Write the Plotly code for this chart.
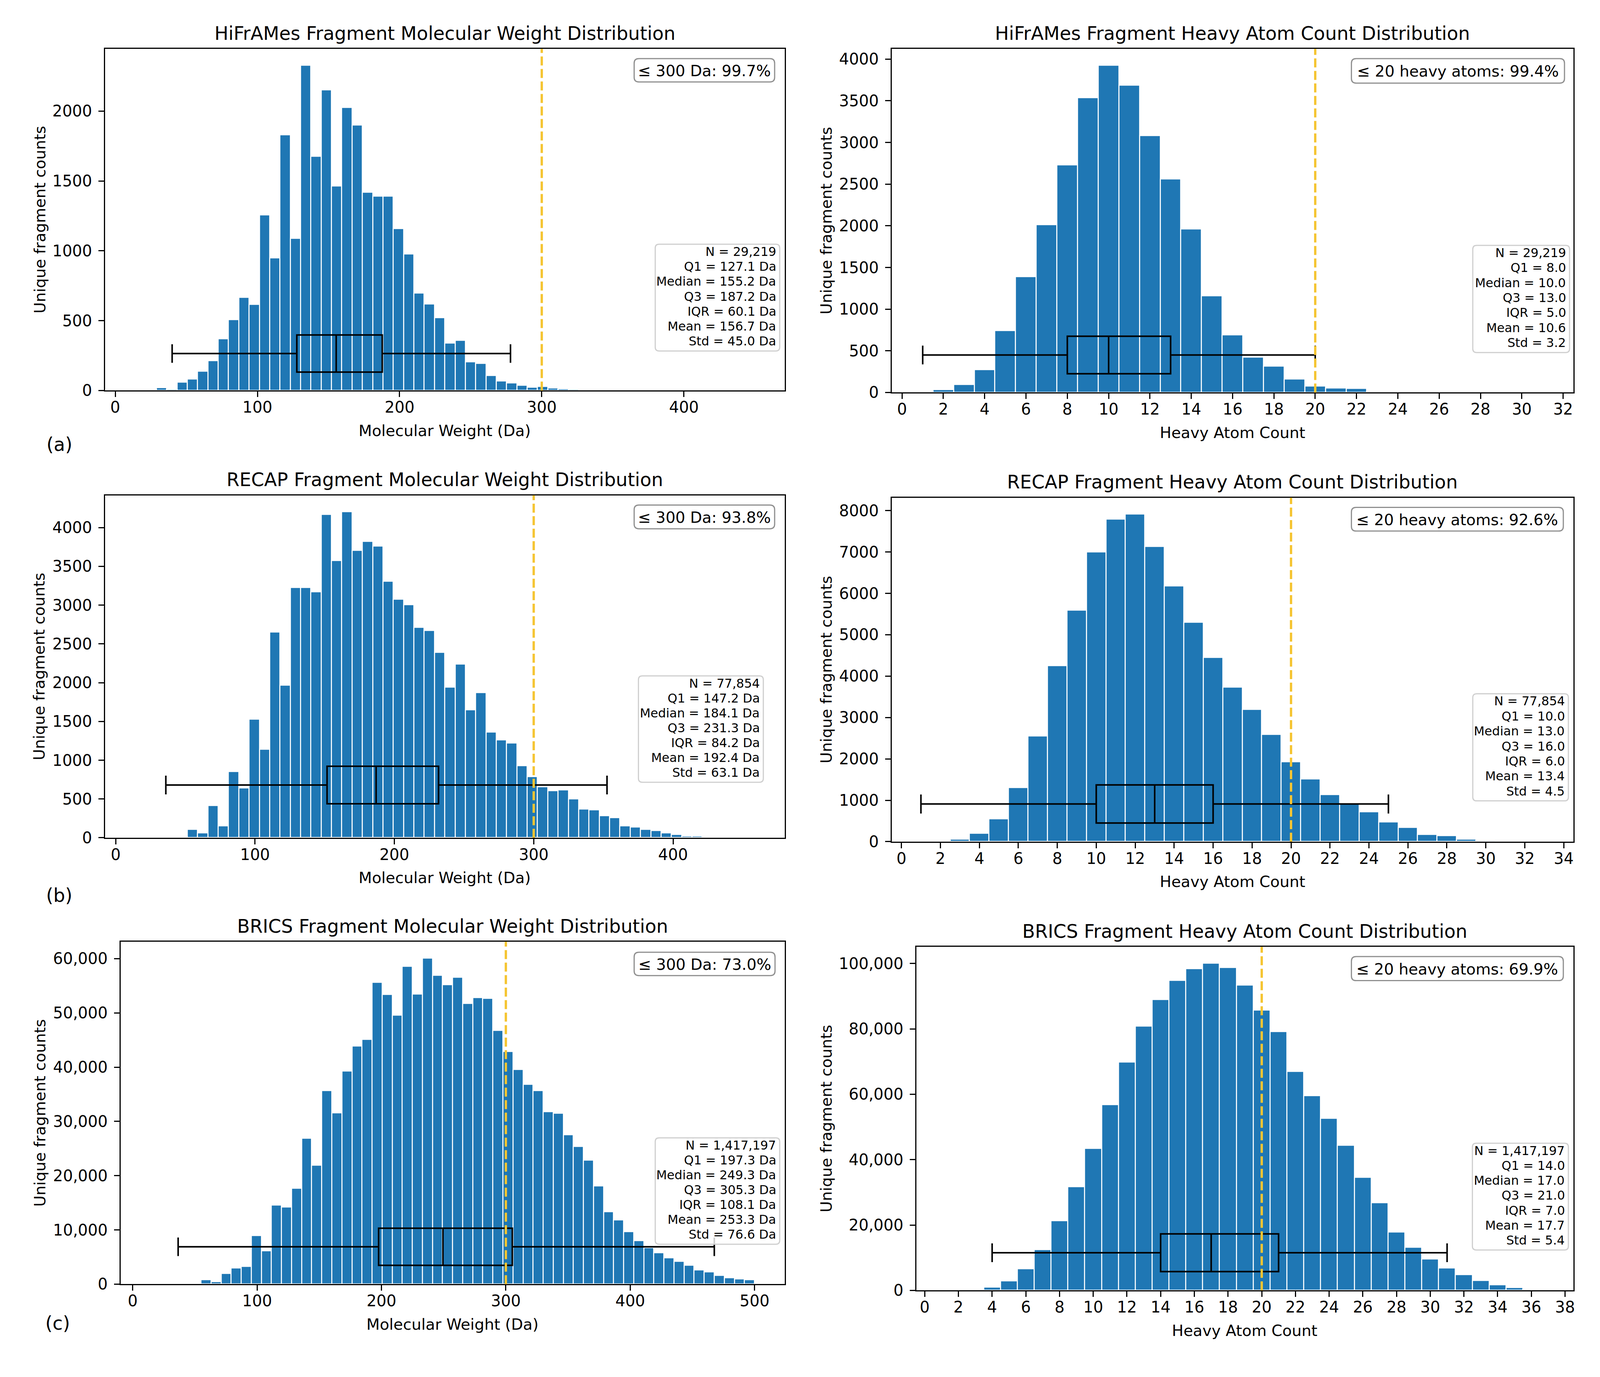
import plotly.graph_objects as go

FIG_W, FIG_H = 4099, 3524
FONT = "DejaVu Sans"

# ------------------------------------------------------------------ data
# Molecular weight histograms: 60 equal bins between first and last edge
mw_bin_first_edge = [14.5, 14.5, 14.5]
mw_bin_last_edge = [449.2, 458.0, 500.0]

hiframes_mw_counts = [0, 0, 21, 10, 59, 82, 138, 212, 371, 507,
                      667, 616, 1256, 948, 1830, 1088, 2329, 1677, 2153, 1463,
                      2025, 1899, 1419, 1390, 1390, 1159, 977, 698, 620, 520,
                      338, 358, 205, 195, 107, 69, 55, 36, 23, 29,
                      17, 12, 8, 3, 2, 2, 1, 1, 1, 0,
                      1, 0, 0, 1, 0, 0, 0, 0, 0, 1]
recap_mw_counts = [1, 0, 2, 10, 3, 109, 60, 412, 150, 851,
                   641, 1529, 1139, 2650, 1964, 3227, 3227, 3171, 4168, 3572,
                   4205, 3703, 3819, 3759, 3306, 3077, 3002, 2714, 2672, 2391,
                   1942, 2241, 1649, 1870, 1364, 1263, 1222, 926, 787, 656,
                   607, 615, 499, 367, 360, 281, 259, 154, 139, 109,
                   94, 60, 41, 22, 19, 5, 3, 2, 1, 1]
brics_mw_counts = [1, 0, 0, 150, 20, 790, 470, 1940, 2970, 3290,
                   8960, 6170, 14540, 14240, 17650, 26870, 21910, 35650, 31540, 39300,
                   43890, 45140, 55660, 53380, 49590, 58590, 53490, 60110, 56910, 55180,
                   56590, 51700, 52790, 52680, 46770, 42860, 39530, 36830, 35690, 31790,
                   31470, 27540, 25370, 22820, 18120, 13370, 11820, 9680, 8010, 6750,
                   5810, 4840, 4160, 3460, 2640, 2260, 1580, 1170, 970, 790]

# Heavy atom count histograms (one bar per integer count)
hiframes_hac_values = list(range(1, 33))
hiframes_hac_counts = [2, 32, 95, 271, 742, 1388, 2014, 2731, 3536, 3926,
                       3684, 3083, 2562, 1961, 1160, 692, 425, 316, 162, 74,
                       53, 46, 8, 4, 3, 2, 1, 1, 1, 0, 0, 1]
recap_hac_values = list(range(1, 35))
recap_hac_counts = [2, 8, 63, 197, 548, 1306, 2550, 4256, 5591, 7002,
                    7796, 7916, 7129, 6174, 5303, 4446, 3729, 3196, 2592, 1931,
                    1510, 1131, 920, 723, 478, 344, 169, 140, 63, 28,
                    8, 3, 1, 1]
brics_hac_values = list(range(1, 39))
brics_hac_counts = [5, 30, 180, 990, 2880, 6650, 12500, 21310, 31740, 43440,
                    56830, 69870, 80850, 88940, 94780, 98380, 100090, 98740, 93440, 85700,
                    79140, 66910, 59530, 52610, 44330, 34530, 26800, 17810, 13220, 9620,
                    6830, 4770, 3060, 1710, 810, 320, 110, 40]
hac_axis_max = [32, 34, 38]

# Box plots: [lower whisker, Q1, median, Q3, upper whisker]
hiframes_mw_box = [40.0, 127.7, 155.4, 187.8, 278.0]
recap_mw_box = [36.0, 151.7, 186.9, 231.7, 352.6]
brics_mw_box = [36.5, 197.7, 249.4, 305.2, 467.6]
hiframes_hac_box = [1, 8, 10, 13, 20]
recap_hac_box = [1, 10, 13, 16, 25]
brics_hac_box = [4, 14, 17, 21, 31]
# vertical placement of each box (centre, height) in count units
box_level_mw = [(265, 266), (680, 484), (6890, 6840)]
box_level_hac = [(450, 450), (910, 920), (11515, 11510)]

mw_threshold = 300
hac_threshold = 20

mw_titles = ["HiFrAMes Fragment Molecular Weight Distribution",
             "RECAP Fragment Molecular Weight Distribution",
             "BRICS Fragment Molecular Weight Distribution"]
hac_titles = ["HiFrAMes Fragment Heavy Atom Count Distribution",
              "RECAP Fragment Heavy Atom Count Distribution",
              "BRICS Fragment Heavy Atom Count Distribution"]
mw_share_text = ["≤ 300 Da: 99.7%", "≤ 300 Da: 93.8%", "≤ 300 Da: 73.0%"]
hac_share_text = ["≤ 20 heavy atoms: 99.4%", "≤ 20 heavy atoms: 92.6%", "≤ 20 heavy atoms: 69.9%"]
mw_stats = [
    ["N = 29,219", "Q1 = 127.1 Da", "Median = 155.2 Da", "Q3 = 187.2 Da",
     "IQR = 60.1 Da", "Mean = 156.7 Da", "Std = 45.0 Da"],
    ["N = 77,854", "Q1 = 147.2 Da", "Median = 184.1 Da", "Q3 = 231.3 Da",
     "IQR = 84.2 Da", "Mean = 192.4 Da", "Std = 63.1 Da"],
    ["N = 1,417,197", "Q1 = 197.3 Da", "Median = 249.3 Da", "Q3 = 305.3 Da",
     "IQR = 108.1 Da", "Mean = 253.3 Da", "Std = 76.6 Da"],
]
hac_stats = [
    ["N = 29,219", "Q1 = 8.0", "Median = 10.0", "Q3 = 13.0",
     "IQR = 5.0", "Mean = 10.6", "Std = 3.2"],
    ["N = 77,854", "Q1 = 10.0", "Median = 13.0", "Q3 = 16.0",
     "IQR = 6.0", "Mean = 13.4", "Std = 4.5"],
    ["N = 1,417,197", "Q1 = 14.0", "Median = 17.0", "Q3 = 21.0",
     "IQR = 7.0", "Mean = 17.7", "Std = 5.4"],
]
panel_letters = ["(a)", "(b)", "(c)"]

# ------------------------------------------------------------------ layout (pixels)
mw_frames = [(261, 2003, 118, 998), (261, 2003, 1268, 2150), (301, 2003, 2418, 3300)]
hac_frames = [(2277, 4024, 118, 1003), (2277, 4024, 1274, 2160), (2340, 4024, 2431, 3316)]
mw_ylabel_x = [94, 92, 94]
hac_ylabel_x = [2109, 2109, 2109]
# rounded boxes: (left, top, right, bottom)
mw_share_rect = [(1617, 143, 1977, 203), (1617, 1293, 1977, 1354), (1617, 2445, 1978, 2505)]
hac_share_rect = [(3455, 143, 4001, 206), (3455, 1299, 3998, 1360), (3455, 2456, 3998, 2518)]
mw_stats_rect = [(1671, 621, 1990, 896), (1628, 1733, 1948, 2007), (1671, 2923, 1990, 3197)]
hac_stats_rect = [(3766, 624, 4014, 900), (3766, 1779, 4011, 2055), (3765, 2937, 4011, 3212)]
letter_pos = [(144, 1137), (144, 2299), (140, 3401)]

BAR_COLOR = "#1f77b4"
LINE_COLOR = "#F5C533"


def fx(x):
    return x / FIG_W


def fy(y):
    return 1 - y / FIG_H


def rounded_rect(rect, r):
    x0, y0, x1, y1 = rect
    X = lambda v: f"{fx(v):.6f}"
    Y = lambda v: f"{fy(v):.6f}"
    return (f"M {X(x0 + r)},{Y(y0)} L {X(x1 - r)},{Y(y0)} Q {X(x1)},{Y(y0)} {X(x1)},{Y(y0 + r)} "
            f"L {X(x1)},{Y(y1 - r)} Q {X(x1)},{Y(y1)} {X(x1 - r)},{Y(y1)} "
            f"L {X(x0 + r)},{Y(y1)} Q {X(x0)},{Y(y1)} {X(x0)},{Y(y1 - r)} "
            f"L {X(x0)},{Y(y0 + r)} Q {X(x0)},{Y(y0)} {X(x0 + r)},{Y(y0)} Z")


fig = go.Figure()
annotations = []
shapes = []
layout_axes = {}

mw_counts_all = [hiframes_mw_counts, recap_mw_counts, brics_mw_counts]
mw_boxes = [hiframes_mw_box, recap_mw_box, brics_mw_box]
hac_values_all = [hiframes_hac_values, recap_hac_values, brics_hac_values]
hac_counts_all = [hiframes_hac_counts, recap_hac_counts, brics_hac_counts]
hac_boxes = [hiframes_hac_box, recap_hac_box, brics_hac_box]


def axis_style():
    return dict(showline=True, mirror=True, linecolor="black", linewidth=3,
                ticks="outside", ticklen=14, tickwidth=3, tickcolor="black",
                showgrid=False, zeroline=False,
                tickfont=dict(family=FONT, size=40, color="black"))


def text_ann(text, x, y, size, **kw):
    d = dict(text=text, x=fx(x), y=fy(y), xref="paper", yref="paper",
             xanchor="center", yanchor="middle", showarrow=False,
             font=dict(family=FONT, size=size, color="black"))
    d.update(kw)
    return d


def add_panel(n, frame, xs, counts, width, box, box_level, xrange, dtick_x,
              threshold, title, xlabel, ylabel_x, share, share_rect, stats,
              stats_rect, ytickformat, dtick_y):
    L, R, T, B = frame
    xa = "x" if n == 1 else f"x{n}"
    ya = "y" if n == 1 else f"y{n}"
    fig.add_trace(go.Bar(x=xs, y=counts, width=width, xaxis=xa, yaxis=ya,
                         marker=dict(color=BAR_COLOR, line=dict(color="white", width=2.6)),
                         showlegend=False, hoverinfo="x+y"))
    pos, height = box_level
    fig.add_trace(go.Box(y=[pos], lowerfence=[box[0]], q1=[box[1]], median=[box[2]],
                         q3=[box[3]], upperfence=[box[4]], orientation="h",
                         width=height, whiskerwidth=0.5, boxpoints=False,
                         fillcolor="rgba(0,0,0,0)", line=dict(color="black", width=4),
                         xaxis=xa, yaxis=ya, showlegend=False))
    ymax = max(counts) * 1.05
    xs_ax = axis_style()
    xs_ax.update(domain=[fx(L), fx(R)], anchor=ya, range=xrange,
                 tick0=0, dtick=dtick_x, ticklabelstandoff=-8)
    ys_ax = axis_style()
    ys_ax.update(domain=[fy(B), fy(T)], anchor=xa, range=[0, ymax],
                 tick0=0, dtick=dtick_y, tickformat=ytickformat, ticklabelstandoff=8)
    layout_axes["xaxis" if n == 1 else f"xaxis{n}"] = xs_ax
    layout_axes["yaxis" if n == 1 else f"yaxis{n}"] = ys_ax

    shapes.append(dict(type="line", xref=xa, yref=f"{ya} domain", x0=threshold, x1=threshold,
                       y0=0, y1=1, layer="above",
                       line=dict(color=LINE_COLOR, width=6, dash="23px,9px")))
    # rounded frames for the two text boxes
    shapes.append(dict(type="path", xref="paper", yref="paper", layer="above",
                       path=rounded_rect(share_rect, 12),
                       fillcolor="rgba(255,255,255,0.85)",
                       line=dict(color="#8f8f8f", width=3)))
    shapes.append(dict(type="path", xref="paper", yref="paper", layer="above",
                       path=rounded_rect(stats_rect, 10),
                       fillcolor="rgba(255,255,255,0.8)",
                       line=dict(color="#cfcfcf", width=3)))

    annotations.append(text_ann(title, (L + R) / 2, T - 40, 47.5))
    annotations.append(text_ann(xlabel, (L + R) / 2, B + 103, 39.6))
    annotations.append(text_ann("Unique fragment counts", ylabel_x, (T + B) / 2, 39.6,
                                textangle=-90))
    sx0, sy0, sx1, sy1 = share_rect
    annotations.append(text_ann(share, (sx0 + sx1) / 2, (sy0 + sy1) / 2 + 1, 39.6))
    tx0, ty0, tx1, ty1 = stats_rect
    step = (ty1 - ty0 - 44) / 6
    cy = (ty0 + ty1) / 2 - 3
    for k, line in enumerate(stats):
        annotations.append(text_ann(line, tx1 - 7, cy + (k - 3) * step, 31.7,
                                    xanchor="right"))


n = 1
for i in range(3):
    lo, hi = mw_bin_first_edge[i], mw_bin_last_edge[i]
    nb = len(mw_counts_all[i])
    w = (hi - lo) / nb
    centers = [lo + (k + 0.5) * w for k in range(nb)]
    span = hi - lo
    add_panel(n, mw_frames[i], centers, mw_counts_all[i], w, mw_boxes[i], box_level_mw[i],
              [lo - 0.05 * span, hi + 0.05 * span], 100, mw_threshold, mw_titles[i],
              "Molecular Weight (Da)", mw_ylabel_x[i], mw_share_text[i], mw_share_rect[i],
              mw_stats[i], mw_stats_rect[i], ",d" if i == 2 else "d",
              500 if i < 2 else 10000)
    n += 1
    add_panel(n, hac_frames[i], hac_values_all[i], hac_counts_all[i], 1.0, hac_boxes[i],
              box_level_hac[i], [-0.5, hac_axis_max[i] + 0.5], 2, hac_threshold,
              hac_titles[i], "Heavy Atom Count", hac_ylabel_x[i], hac_share_text[i],
              hac_share_rect[i], hac_stats[i], hac_stats_rect[i],
              ",d" if i == 2 else "d", [500, 1000, 20000][i])
    n += 1
    annotations.append(text_ann(panel_letters[i], letter_pos[i][0], letter_pos[i][1], 47.5))

fig.update_layout(width=FIG_W, height=FIG_H, margin=dict(l=0, r=0, t=0, b=0),
                  paper_bgcolor="white", plot_bgcolor="white", bargap=0,
                  font=dict(family=FONT, color="black"),
                  annotations=annotations, shapes=shapes, showlegend=False,
                  **layout_axes)

fig.write_html("out.html")
